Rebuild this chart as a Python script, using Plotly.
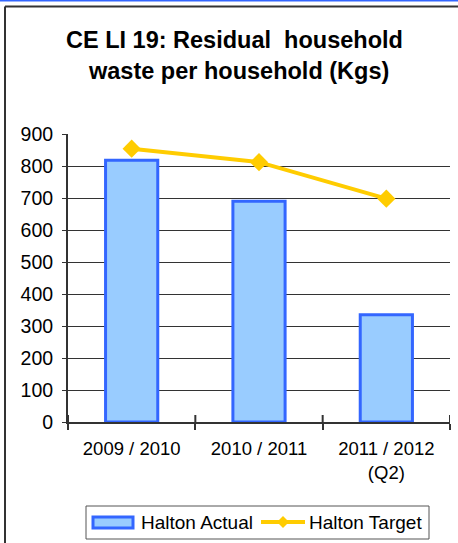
import plotly.graph_objects as go

# Data
categories = ["2009 / 2010", "2010 / 2011", "2011 / 2012<br>(Q2)"]
halton_actual = [818, 690, 335]
halton_target = [854, 812, 698]
y_ticks = [0, 100, 200, 300, 400, 500, 600, 700, 800, 900]

FONT = "Liberation Sans, Arial, sans-serif"
BAR_FILL = "#99ccff"
BAR_EDGE = "#3366ff"
TARGET = "#ffcc00"

W, H = 458, 543
ML, MR, MT, MB = 68, 8, 134, 121
PW, PH = W - ML - MR, H - MT - MB


def px(x):
    return (x - ML) / PW


def py(y):
    return (H - MB - y) / PH


fig = go.Figure()
fig.add_trace(go.Bar(
    x=categories, y=halton_actual, name="Halton Actual",
    width=0.41,
    marker=dict(color=BAR_FILL, line=dict(color=BAR_EDGE, width=3)),
))
fig.add_trace(go.Scatter(
    x=categories, y=halton_target, name="Halton Target",
    mode="lines+markers",
    line=dict(color=TARGET, width=4),
    marker=dict(symbol="diamond", size=14, color=TARGET),
))

shapes = []
# outer frame
shapes.append(dict(type="line", xref="paper", yref="paper",
                   x0=px(0), x1=px(W), y0=py(0.5), y1=py(0.5),
                   line=dict(color="#3366ff", width=2)))
shapes.append(dict(type="line", xref="paper", yref="paper",
                   x0=px(5), x1=px(W + 5), y0=py(6.5), y1=py(6.5),
                   line=dict(color="#333333", width=2)))
shapes.append(dict(type="line", xref="paper", yref="paper",
                   x0=px(5), x1=px(5), y0=py(6.5), y1=py(H + 5),
                   line=dict(color="#333333", width=2)))
# category boundary ticks crossing the axis
for i in range(len(categories) + 1):
    shapes.append(dict(type="line", xref="x", yref="paper",
                       x0=i - 0.5, x1=i - 0.5, y0=0, y1=7 / PH,
                       line=dict(color="#333333", width=2)))

# legend
lx0, lx1, ly0, ly1 = 86, 429, 506, 539
shapes.append(dict(type="rect", xref="paper", yref="paper",
                   x0=px(lx0), x1=px(lx1), y0=py(ly1), y1=py(ly0),
                   line=dict(color="#555555", width=1), fillcolor="white"))
shapes.append(dict(type="rect", xref="paper", yref="paper",
                   x0=px(93), x1=px(133), y0=py(528), y1=py(517),
                   line=dict(color=BAR_EDGE, width=3), fillcolor=BAR_FILL))
shapes.append(dict(type="line", xref="paper", yref="paper",
                   x0=px(261), x1=px(305), y0=py(522), y1=py(522),
                   line=dict(color=TARGET, width=4)))
dx, dy, cx, cy = 6, 6, 283, 522
shapes.append(dict(type="path", xref="paper", yref="paper",
                   path=(f"M{px(cx - dx)},{py(cy)} L{px(cx)},{py(cy - dy)} "
                         f"L{px(cx + dx)},{py(cy)} L{px(cx)},{py(cy + dy)} Z"),
                   fillcolor=TARGET, line=dict(color=TARGET, width=0)))

annotations = [
    dict(text="<b>CE LI 19: Residual\u00a0 household</b>", xref="paper", yref="paper",
         x=px(234), y=py(40), xanchor="center", yanchor="middle", showarrow=False,
         font=dict(family=FONT, size=23.5, color="black")),
    dict(text="<b>waste per household (Kgs)</b>", xref="paper", yref="paper",
         x=px(238), y=py(71), xanchor="center", yanchor="middle", showarrow=False,
         font=dict(family=FONT, size=23.5, color="black")),
    dict(text="Halton Actual", xref="paper", yref="paper",
         x=px(139), y=py(522), xanchor="left", yanchor="middle", showarrow=False,
         font=dict(family=FONT, size=19, color="black")),
    dict(text="Halton Target", xref="paper", yref="paper",
         x=px(307), y=py(522), xanchor="left", yanchor="middle", showarrow=False,
         font=dict(family=FONT, size=19, color="black")),
]

fig.update_layout(
    width=W, height=H,
    margin=dict(l=ML, r=MR, t=MT, b=MB, pad=0),
    paper_bgcolor="white", plot_bgcolor="white",
    showlegend=False,
    font=dict(family=FONT, size=18, color="black"),
    shapes=shapes, annotations=annotations,
)
fig.update_xaxes(
    type="category", range=[-0.5, 2.5],
    showline=True, linecolor="#333333", linewidth=2,
    ticks="outside", tickson="boundaries", ticklen=6, tickwidth=2, tickcolor="#333333",
    showgrid=False, ticklabelstandoff=9,
    tickfont=dict(family=FONT, size=18.5, color="black"),
)
fig.update_yaxes(
    range=[0, 900], tickvals=y_ticks,
    showline=True, linecolor="#333333", linewidth=2,
    ticks="outside", ticklen=4, tickwidth=1, tickcolor="#333333",
    showgrid=True, gridcolor="#333333", gridwidth=1,
    zeroline=False, ticklabelstandoff=5,
    tickfont=dict(family=FONT, size=19.5, color="black"),
)

fig.write_html("out.html")
